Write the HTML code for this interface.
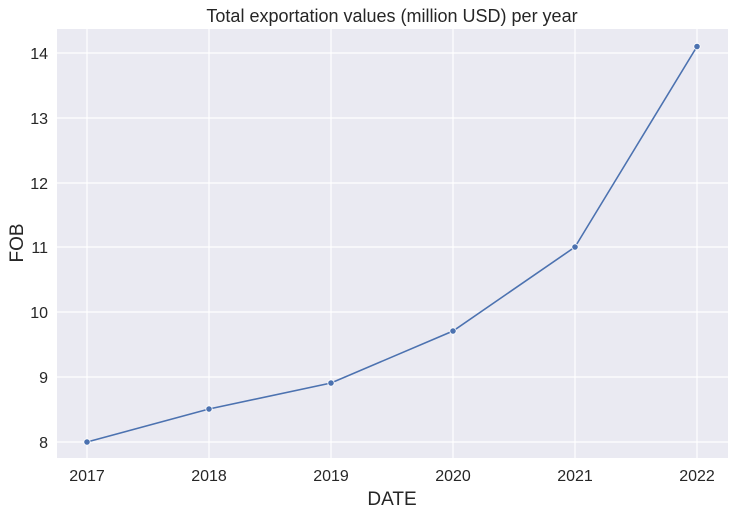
<!DOCTYPE html>
<html><head><meta charset="utf-8"><style>
html,body{margin:0;padding:0;background:#fff;}
svg text{font-family:"Liberation Sans","DejaVu Sans",sans-serif;fill:#262626;}
</style></head><body>
<svg width="733" height="515" xmlns="http://www.w3.org/2000/svg">
<rect x="0" y="0" width="733" height="515" fill="#fff"/>
<rect x="57" y="29" width="671" height="429" fill="#EAEAF2"/>
<g stroke="#fff" stroke-width="1.2">
<line x1="87" y1="29" x2="87" y2="458"/>
<line x1="209" y1="29" x2="209" y2="458"/>
<line x1="331" y1="29" x2="331" y2="458"/>
<line x1="453" y1="29" x2="453" y2="458"/>
<line x1="575" y1="29" x2="575" y2="458"/>
<line x1="697" y1="29" x2="697" y2="458"/>
<line x1="57" y1="442" x2="728" y2="442"/>
<line x1="57" y1="377" x2="728" y2="377"/>
<line x1="57" y1="312" x2="728" y2="312"/>
<line x1="57" y1="247" x2="728" y2="247"/>
<line x1="57" y1="183" x2="728" y2="183"/>
<line x1="57" y1="118" x2="728" y2="118"/>
<line x1="57" y1="53" x2="728" y2="53"/>
</g>
<polyline fill="none" stroke="#4C72B0" stroke-width="1.6" points="87,442 209,409 331,383 453,331 575,247 697,46.5"/>
<g fill="#4C72B0" stroke="#fff" stroke-width="0.8">
<circle cx="87" cy="442" r="3.2"/><circle cx="209" cy="409" r="3.2"/><circle cx="331" cy="383" r="3.2"/>
<circle cx="453" cy="331" r="3.2"/><circle cx="575" cy="247" r="3.2"/><circle cx="697" cy="46.5" r="3.2"/>
</g>
<g font-size="16" text-anchor="middle">
<text x="87" y="481">2017</text><text x="209" y="481">2018</text><text x="331" y="481">2019</text>
<text x="453" y="481">2020</text><text x="575" y="481">2021</text><text x="697" y="481">2022</text>
</g>
<g font-size="16" text-anchor="end">
<text x="48" y="448">8</text><text x="48" y="383">9</text><text x="48" y="318">10</text>
<text x="48" y="253">11</text><text x="48" y="189">12</text><text x="48" y="124">13</text><text x="48" y="59">14</text>
</g>
<text x="392" y="505" font-size="19" text-anchor="middle">DATE</text>
<text transform="translate(23,243) rotate(-90)" font-size="19" text-anchor="middle">FOB</text>
<text x="392" y="22" font-size="18" text-anchor="middle">Total exportation values (million USD) per year</text>
</svg>
</body></html>
